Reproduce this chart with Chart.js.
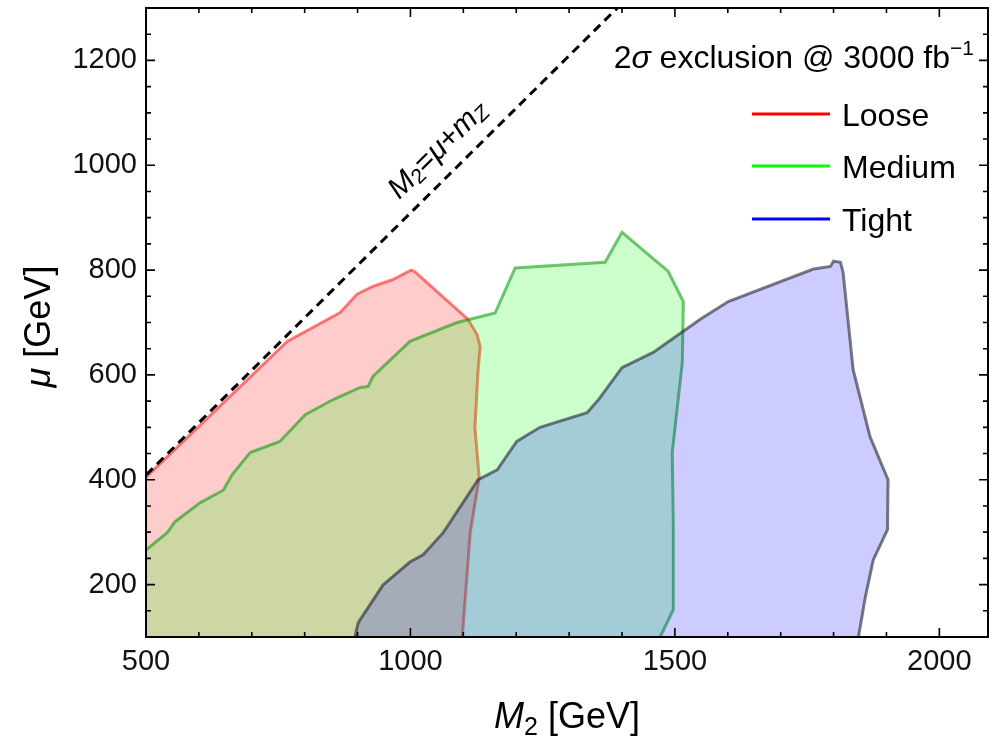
<!DOCTYPE html>
<html lang="en">
<head>
  <meta charset="UTF-8">
  <title>2σ exclusion @ 3000 fb-1</title>
  <script src="https://cdn.jsdelivr.net/npm/chart.js"></script>
  <style>
    body {
      margin: 0;
      background-color: #ffffff;
    }
  </style>
</head>
<body>
  <canvas id="exclusionChart" width="989" height="736"></canvas>

  <script>
    // region boundaries (M2, mu in GeV); points past the axes close the shapes
    const looseM2 = [480, 480, 500, 767, 867, 899, 929, 967, 1001, 1008, 1109, 1126, 1132, 1128, 1122, 1130, 1113, 1098, 1094, 480];
    const looseMu = [80, 385, 405, 664, 719, 754, 769, 782, 800, 797, 706, 677, 654, 610, 500, 404, 299, 100, 80, 80];

    const mediumM2 = [480, 480, 500, 540, 555, 602, 646, 663, 697, 753, 801, 854, 905, 920, 929, 999, 1088, 1160, 1198, 1368, 1400, 1487, 1516, 1514, 1495, 1497, 1497, 1472, 1466, 480];
    const mediumMu = [80, 250, 266, 299, 320, 356, 380, 410, 452, 473, 524, 553, 576, 578, 597, 664, 700, 718, 804, 815, 872, 798, 740, 624, 452, 318, 152, 100, 80, 80];

    const tightM2 = [890, 895, 901, 948, 999, 1024, 1062, 1128, 1164, 1201, 1245, 1334, 1355, 1400, 1459, 1548, 1601, 1762, 1794, 1800, 1813, 1818, 1837, 1869, 1903, 1902, 1875, 1860, 1847, 1845, 890];
    const tightMu = [80, 100, 127, 199, 243, 257, 299, 400, 419, 473, 500, 528, 552, 614, 643, 706, 740, 802, 807, 817, 815, 796, 610, 482, 400, 305, 247, 176, 100, 80, 80];

    // M2 = mu + mZ
    const diagM2 = [400, 1500];
    const diagMu = [309, 1409];

    const seriesNames = ['Loose', 'Medium', 'Tight'];

    const xTickValues = [500, 600, 700, 800, 900, 1000, 1100, 1200, 1300, 1400, 1500, 1600, 1700, 1800, 1900, 2000];
    const xTickLabels = [500, 1000, 1500, 2000];
    const yTickValues = [100, 150, 200, 250, 300, 350, 400, 450, 500, 550, 600, 650, 700, 750, 800, 850, 900, 950, 1000, 1050, 1100, 1150, 1200, 1250, 1300];
    const yTickLabels = [200, 400, 600, 800, 1000, 1200];

    const FONT = '"Liberation Sans", Arial, sans-serif';
    const legendColors = ['#ff0000', '#00ff00', '#0000ff'];

    function pts(xs, ys) {
      return xs.map((v, i) => ({ x: v, y: ys[i] }));
    }

    // draw a row of text pieces (for italics / sub- and superscripts)
    function drawRuns(ctx, runs, x, y, align) {
      let total = 0;
      runs.forEach(r => {
        ctx.font = r.font;
        total += ctx.measureText(r.text).width;
      });
      let cx = align === 'right' ? x - total : align === 'center' ? x - total / 2 : x;
      runs.forEach(r => {
        ctx.font = r.font;
        ctx.fillText(r.text, cx, y + (r.dy || 0));
        cx += ctx.measureText(r.text).width;
      });
    }

    const decor = {
      id: 'decor',
      afterDraw(chart) {
        const { ctx, chartArea: a, scales: { x, y } } = chart;
        ctx.save();
        ctx.strokeStyle = '#000';
        ctx.fillStyle = '#000';

        // inward ticks on all four sides
        ctx.lineWidth = 1.6;
        ctx.beginPath();
        xTickValues.forEach(v => {
          const px = x.getPixelForValue(v);
          const len = xTickLabels.includes(v) ? 9 : 5;
          ctx.moveTo(px, a.bottom); ctx.lineTo(px, a.bottom - len);
          ctx.moveTo(px, a.top); ctx.lineTo(px, a.top + len);
        });
        yTickValues.forEach(v => {
          const py = y.getPixelForValue(v);
          const len = yTickLabels.includes(v) ? 9 : 5;
          ctx.moveTo(a.left, py); ctx.lineTo(a.left + len, py);
          ctx.moveTo(a.right, py); ctx.lineTo(a.right - len, py);
        });
        ctx.stroke();

        ctx.lineWidth = 2;
        ctx.strokeRect(a.left, a.top, a.right - a.left, a.bottom - a.top);

        ctx.textBaseline = 'alphabetic';

        // title
        drawRuns(ctx, [
          { text: '2', font: `32px ${FONT}` },
          { text: 'σ', font: `italic 32px ${FONT}` },
          { text: ' exclusion @ 3000 fb', font: `32px ${FONT}` },
          { text: '−1', font: `21px ${FONT}`, dy: -13 }
        ], 974, 68, 'right');

        // legend
        const rows = [114, 166, 219];
        chart.data.datasets.slice(0, 3).forEach((ds, i) => {
          ctx.strokeStyle = legendColors[i];
          ctx.lineWidth = 3;
          ctx.beginPath();
          ctx.moveTo(752, rows[i]);
          ctx.lineTo(830, rows[i]);
          ctx.stroke();
          ctx.font = `32px ${FONT}`;
          ctx.fillText(ds.label, 842, rows[i] + 12);
        });

        // axis titles
        drawRuns(ctx, [
          { text: 'M', font: `italic 36px ${FONT}` },
          { text: '2', font: `25px ${FONT}`, dy: 7 },
          { text: ' [GeV]', font: `36px ${FONT}` }
        ], (a.left + a.right) / 2, 728, 'center');

        ctx.save();
        ctx.translate(50, (a.top + a.bottom) / 2 + 4);
        ctx.rotate(-Math.PI / 2);
        drawRuns(ctx, [
          { text: 'μ', font: `italic 36px ${FONT}` },
          { text: ' [GeV]', font: `36px ${FONT}` }
        ], 0, 0, 'center');
        ctx.restore();

        // label along the dashed line
        const p1x = x.getPixelForValue(diagM2[0]), p1y = y.getPixelForValue(diagMu[0]);
        const p2x = x.getPixelForValue(diagM2[1]), p2y = y.getPixelForValue(diagMu[1]);
        const ang = Math.atan2(p2y - p1y, p2x - p1x);
        ctx.save();
        ctx.translate(438, 150);
        ctx.rotate(ang);
        ctx.textBaseline = 'middle';
        drawRuns(ctx, [
          { text: 'M', font: `italic 30px ${FONT}` },
          { text: '2', font: `21px ${FONT}`, dy: 6 },
          { text: '=', font: `30px ${FONT}` },
          { text: 'μ', font: `italic 30px ${FONT}` },
          { text: '+', font: `30px ${FONT}` },
          { text: 'm', font: `italic 30px ${FONT}` },
          { text: 'Z', font: `italic 21px ${FONT}`, dy: 6 }
        ], 0, 0, 'center');
        ctx.restore();

        ctx.restore();
      }
    };

    const region = (label, xs, ys, fillCol, lineCol, order) => ({
      label: label,
      data: pts(xs, ys),
      showLine: true,
      fill: 'shape',
      backgroundColor: fillCol,
      borderColor: lineCol,
      borderWidth: 3,
      pointRadius: 0,
      tension: 0,
      order: order,
      clip: 0
    });

    new Chart(document.getElementById('exclusionChart'), {
      type: 'scatter',
      data: {
        datasets: [
          region(seriesNames[0], looseM2, looseMu, 'rgba(255,0,0,0.2)', 'rgba(255,0,0,0.5)', 3),
          region(seriesNames[1], mediumM2, mediumMu, 'rgba(0,255,0,0.2)', 'rgba(0,150,0,0.55)', 2),
          region(seriesNames[2], tightM2, tightMu, 'rgba(0,0,255,0.2)', 'rgba(40,40,60,0.62)', 1),
          {
            label: 'M2=mu+mZ',
            data: pts(diagM2, diagMu),
            showLine: true,
            fill: false,
            borderColor: '#000',
            borderWidth: 3,
            borderDash: [9, 6],
            pointRadius: 0,
            order: 0,
            clip: 0
          }
        ]
      },
      options: {
        responsive: false,
        animation: false,
        events: [],
        layout: { padding: { top: 8, right: 1, left: 0, bottom: 0 } },
        plugins: {
          legend: { display: false },
          tooltip: { enabled: false }
        },
        scales: {
          x: {
            type: 'linear',
            min: 500,
            max: 2092,
            grid: { display: false, drawTicks: false },
            border: { display: false },
            afterBuildTicks: s => { s.ticks = xTickValues.map(v => ({ value: v })); },
            afterFit: s => {
              s.height = 99;
              s.paddingLeft = 0;
              s.paddingRight = 0;
            },
            ticks: {
              autoSkip: false,
              maxRotation: 0,
              padding: 8,
              color: '#111',
              font: { family: FONT, size: 29 },
              callback: v => xTickLabels.includes(v) ? String(v) : ''
            }
          },
          y: {
            type: 'linear',
            min: 100,
            max: 1300,
            grid: { display: false, drawTicks: false },
            border: { display: false },
            afterBuildTicks: s => { s.ticks = yTickValues.map(v => ({ value: v })); },
            afterFit: s => {
              s.width = 146;
              s.paddingTop = 0;
              s.paddingBottom = 0;
            },
            ticks: {
              autoSkip: false,
              padding: 9,
              color: '#111',
              font: { family: FONT, size: 29 },
              callback: v => yTickLabels.includes(v) ? String(v) : ''
            }
          }
        }
      },
      plugins: [decor]
    });
  </script>
</body>
</html>
